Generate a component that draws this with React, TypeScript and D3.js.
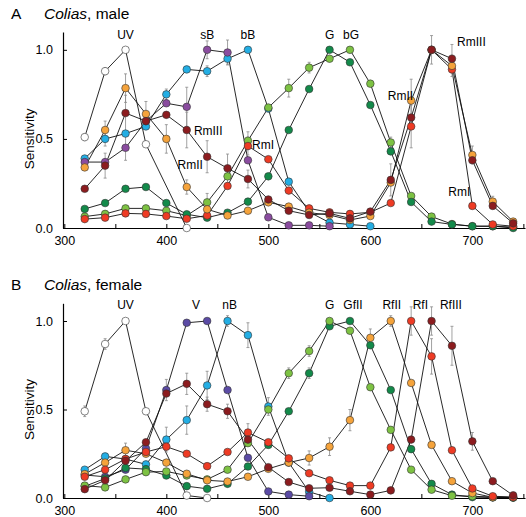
import { useEffect, useRef } from "react";
import * as d3 from "d3";

// wavelength grid (nm)
const wavelengths = [320, 340, 360, 380, 400, 420, 440, 460, 480, 500, 520, 540, 560, 580, 600, 620, 640, 660, 680, 700, 720, 740];

// male receptors
const maleUV = [0.51, 0.88, 1.0, 0.47, null, 0.0, null, null, null, null, null, null, null, null, null, null, null, null, null, null, null, null];
const maleSB = [0.37, 0.37, 0.45, 0.6, 0.7, 0.68, 1.0, 0.985, 0.38, 0.06, 0.015, 0.015, 0.01, null, null, null, null, null, null, null, null, null];
const maleBB = [0.39, 0.5, 0.53, 0.57, 0.75, 0.89, 0.88, 0.95, 1.0, 0.67, 0.26, 0.09, 0.03, 0.02, 0.01, null, null, null, null, null, null, null];
const maleG = [0.107, 0.14, 0.22, 0.23, 0.14, 0.077, 0.058, 0.086, 0.148, 0.29, 0.55, 0.78, 1.0, 0.93, 0.69, 0.43, 0.146, 0.036, 0.02, 0.01, 0.01, 0.0];
const maleBG = [0.064, 0.079, 0.11, 0.11, 0.097, 0.07, 0.144, 0.29, 0.49, 0.676, 0.785, 0.9, 0.95, 1.0, 0.81, 0.48, 0.18, 0.064, 0.022, 0.01, 0.01, 0.005];
const maleRmI = [0.05, 0.058, 0.082, 0.079, 0.067, 0.052, 0.07, 0.236, 0.46, 0.386, 0.21, 0.11, 0.088, 0.079, 0.088, 0.14, 0.57, 1.0, 0.89, 0.124, 0.02, 0.01];
const maleRmII = [0.34, 0.55, 0.785, 0.64, 0.5, 0.23, 0.105, 0.07, 0.097, 0.144, 0.12, 0.086, 0.073, 0.045, 0.067, 0.255, 0.715, 1.0, 0.91, 0.41, 0.148, 0.036];
const maleRmIII = [0.22, 0.35, 0.645, 0.6, 0.635, 0.55, 0.4, 0.335, 0.275, 0.16, 0.097, 0.073, 0.082, 0.054, 0.092, 0.27, 0.62, 1.0, 0.95, 0.38, 0.124, 0.026];

// female receptors
const femUV = [0.49, 0.87, 1.0, 0.49, null, 0.014, 0.0, null, null, null, null, null, null, null, null, null, null, null, null, null, null, null];
const femV = [0.13, 0.12, 0.16, 0.28, 0.61, 0.99, 1.0, 0.61, 0.227, 0.037, 0.019, 0.01, null, null, null, null, null, null, null, null, null, null];
const femNB = [0.16, 0.235, 0.22, 0.19, 0.33, 0.44, 0.636, 1.0, 0.92, 0.517, 0.2, 0.035, 0.0, null, null, null, null, null, null, null, null, null];
const femG = [0.07, 0.06, 0.105, 0.146, 0.15, 0.127, 0.105, 0.16, 0.31, 0.5, 0.705, 0.83, 1.0, 0.945, 0.626, 0.385, 0.16, 0.047, 0.013, 0.01, 0.005, 0.003];
const femGfII = [0.066, 0.11, 0.17, 0.163, 0.127, 0.067, 0.052, 0.08, 0.178, 0.3, 0.49, 0.705, 0.97, 1.0, 0.863, 0.61, 0.276, 0.08, 0.019, 0.005, 0.003, 0.002];
const femRfI = [0.12, 0.16, 0.22, 0.26, 0.29, 0.25, 0.18, 0.26, 0.37, 0.315, 0.224, 0.14, 0.1, 0.07, 0.07, 0.286, 1.0, 0.8, 0.27, 0.054, 0.01, 0.005];
const femRfII = [0.135, 0.2, 0.27, 0.25, 0.2, 0.137, 0.1, 0.093, 0.12, 0.165, 0.2, 0.226, 0.29, 0.44, 0.905, 1.0, 0.65, 0.3, 0.095, 0.028, 0.004, 0.004];
const femRfIII = [0.05, 0.1, 0.21, 0.315, 0.59, 0.645, 0.53, 0.49, 0.33, 0.174, 0.09, 0.055, 0.058, 0.038, 0.019, 0.043, 0.33, 1.0, 0.86, 0.32, 0.095, 0.015];

// error bars: [series, nm, +/- sem]
const maleErrors = [
  ["UV", 320, 0.02], ["UV", 340, 0.02],
  ["RmII", 340, 0.05], ["RmII", 360, 0.08], ["RmII", 380, 0.07], ["RmII", 400, 0.08], ["RmII", 420, 0.04],
  ["RmIII", 340, 0.07], ["RmIII", 360, 0.1], ["RmIII", 420, 0.1], ["RmIII", 440, 0.09], ["RmIII", 460, 0.08], ["RmIII", 480, 0.05],
  ["sB", 360, 0.07], ["sB", 420, 0.11], ["sB", 440, 0.05], ["sB", 460, 0.07],
  ["bB", 340, 0.04], ["bB", 400, 0.03], ["bB", 440, 0.03], ["bB", 460, 0.03],
  ["bG", 440, 0.05], ["bG", 480, 0.05], ["bG", 520, 0.05], ["bG", 540, 0.03], ["bG", 620, 0.03],
  ["RmI", 480, 0.05], ["RmI", 640, 0.12], ["RmII", 640, 0.12], ["RmIII", 620, 0.09],
  ["RmIII", 660, 0.08], ["RmIII", 680, 0.08], ["RmII", 680, 0.06], ["RmII", 700, 0.05], ["RmII", 720, 0.03],
];
const femErrors = [
  ["UV", 320, 0.03], ["UV", 340, 0.03], ["V", 400, 0.06], ["RfIII", 420, 0.06],
  ["nB", 400, 0.07], ["nB", 420, 0.08], ["nB", 440, 0.08], ["nB", 460, 0.03], ["nB", 480, 0.07], ["nB", 500, 0.05],
  ["RfII", 360, 0.04], ["RfII", 540, 0.04], ["RfII", 560, 0.05], ["RfII", 580, 0.06], ["RfII", 600, 0.05], ["RfII", 620, 0.03],
  ["RfI", 480, 0.05], ["RfI", 640, 0.08], ["RfI", 660, 0.1], ["RfIII", 440, 0.04], ["RfIII", 460, 0.04],
  ["RfIII", 660, 0.08], ["RfIII", 680, 0.11], ["RfIII", 700, 0.05],
  ["G", 520, 0.03], ["G", 540, 0.03], ["GfII", 540, 0.03],
];

// receptor labels: [text, nm, sensitivity, anchor]
const maleLabels = [
  ["UV", 360, 1.06, "middle"], ["sB", 440, 1.06, "middle"], ["bB", 480, 1.06, "middle"],
  ["G", 560, 1.06, "middle"], ["bG", 581, 1.06, "middle"], ["RmIII", 685, 1.02, "start"],
  ["RmIII", 427, 0.52, "start"], ["RmII", 411, 0.33, "start"], ["RmI", 484, 0.445, "start"],
  ["RmII", 642, 0.72, "end"], ["RmI", 698, 0.18, "end"],
];
const femLabels = [
  ["UV", 360, 1.07, "middle"], ["V", 429, 1.07, "middle"], ["nB", 462, 1.07, "middle"],
  ["G", 560, 1.07, "middle"], ["GfII", 583, 1.07, "middle"], ["RfII", 621, 1.07, "middle"],
  ["RfI", 649, 1.07, "middle"], ["RfIII", 679, 1.07, "middle"],
];

const xMajor = [300, 400, 500, 600, 700];
const xMinor = [350, 450, 550, 650, 750];
const yTicks = [0, 0.5, 1.0];

const FONT = "'Liberation Sans', Arial, Helvetica, sans-serif";

const malePanel = {
  letter: "A",
  sex: "male",
  top: 32,
  bottom: 228,
  series: [
    { key: "UV", vals: maleUV, color: "#ffffff" },
    { key: "bB", vals: maleBB, color: "#23aee4" },
    { key: "sB", vals: maleSB, color: "#8a4c9f" },
    { key: "bG", vals: maleBG, color: "#7dc243" },
    { key: "G", vals: maleG, color: "#138a4a" },
    { key: "RmI", vals: maleRmI, color: "#ee3b24" },
    { key: "RmII", vals: maleRmII, color: "#f5a33b" },
    { key: "RmIII", vals: maleRmIII, color: "#8c1c1f" },
  ],
  errors: maleErrors,
  labels: maleLabels,
};

const femPanel = {
  letter: "B",
  sex: "female",
  top: 303.3,
  bottom: 498,
  series: [
    { key: "UV", vals: femUV, color: "#ffffff" },
    { key: "nB", vals: femNB, color: "#23aee4" },
    { key: "V", vals: femV, color: "#5b4ba5" },
    { key: "GfII", vals: femGfII, color: "#138a4a" },
    { key: "G", vals: femG, color: "#7dc243" },
    { key: "RfII", vals: femRfII, color: "#f5a33b" },
    { key: "RfI", vals: femRfI, color: "#ee3b24" },
    { key: "RfIII", vals: femRfIII, color: "#8c1c1f" },
  ],
  errors: femErrors,
  labels: femLabels,
};

function drawPanel(root, p, x) {
  const y = d3.scaleLinear().domain([0, 1.1]).range([p.bottom, p.top]);
  const g = root.append("g");

  // title
  const title = g.append("text")
    .attr("x", 11)
    .attr("y", p.top - 13)
    .style("font-family", FONT)
    .style("font-size", "15.5px");
  title.append("tspan").text(p.letter);
  title.append("tspan").attr("x", 44).style("font-style", "italic").text("Colias");
  title.append("tspan").text(`, ${p.sex}`);

  // axes
  const axX = g.append("g").attr("transform", `translate(0,${p.bottom})`);
  axX.call(d3.axisBottom(x).tickValues(xMajor).tickFormat(d3.format("d")).tickSizeInner(-4).tickSizeOuter(0).tickPadding(8));
  axX.append("g").call(d3.axisBottom(x).tickValues(xMinor).tickFormat(() => "").tickSizeInner(-4).tickSizeOuter(0))
    .select(".domain").remove();
  const axY = g.append("g").attr("transform", `translate(${x.range()[0]},0)`);
  axY.call(d3.axisLeft(y).tickValues(yTicks).tickFormat(d3.format(".1f")).tickSizeInner(-4).tickSizeOuter(0).tickPadding(10));
  [axX, axY].forEach((a) => {
    a.selectAll(".domain").attr("stroke", "#000").attr("stroke-width", 1.2);
    a.selectAll(".tick line").attr("stroke", "#000");
    a.selectAll(".tick text").attr("fill", "#000").style("font-family", FONT).style("font-size", "12.5px");
  });

  g.append("text")
    .attr("transform", `translate(34,${y(0.5)}) rotate(-90)`)
    .attr("text-anchor", "middle")
    .style("font-family", FONT)
    .style("font-size", "13.5px")
    .text("Sensitivity");

  const pts = (s) => wavelengths.map((w, i) => ({ w, v: s.vals[i], s })).filter((d) => d.v != null);
  const line = d3.line().x((d) => x(d.w)).y((d) => y(d.v));

  // lines
  p.series.forEach((s) => {
    g.append("path").attr("d", line(pts(s))).attr("fill", "none").attr("stroke", "#111").attr("stroke-width", 0.9);
  });

  // error bars
  const errG = g.append("g").attr("stroke", "#8a8a8a").attr("stroke-width", 0.8);
  p.errors.forEach(([k, w, e]) => {
    const s = p.series.find((d) => d.key === k);
    const v = s.vals[wavelengths.indexOf(w)];
    const cx = x(w);
    errG.append("line").attr("x1", cx).attr("x2", cx).attr("y1", y(v - e)).attr("y2", y(v + e));
    [v - e, v + e].forEach((b) => {
      errG.append("line").attr("x1", cx - 1.5).attr("x2", cx + 1.5).attr("y1", y(b)).attr("y2", y(b));
    });
  });

  // markers
  p.series.forEach((s) => {
    g.append("g")
      .selectAll("circle")
      .data(pts(s))
      .enter()
      .append("circle")
      .attr("cx", (d) => x(d.w))
      .attr("cy", (d) => y(d.v))
      .attr("r", 3.8)
      .attr("fill", s.color)
      .attr("stroke", "#333")
      .attr("stroke-width", 0.6);
  });

  // receptor labels
  p.labels.forEach(([t, w, v, anchor]) => {
    g.append("text")
      .attr("x", x(w))
      .attr("y", y(v))
      .attr("text-anchor", anchor)
      .style("font-family", FONT)
      .style("font-size", "12px")
      .text(t);
  });
}

export default function App() {
  const svgRef = useRef(null);

  useEffect(() => {
    const svg = d3.select(svgRef.current);
    svg.selectAll("*").remove();
    const x = d3.scaleLinear().domain([298.7, 751.6]).range([63, 525]);
    drawPanel(svg, malePanel, x);
    drawPanel(svg, femPanel, x);
  }, []);

  return (
    <svg
      ref={svgRef}
      width={526}
      height={517}
      style={{ position: "absolute", left: 0, top: 0, background: "#fff" }}
    />
  );
}
